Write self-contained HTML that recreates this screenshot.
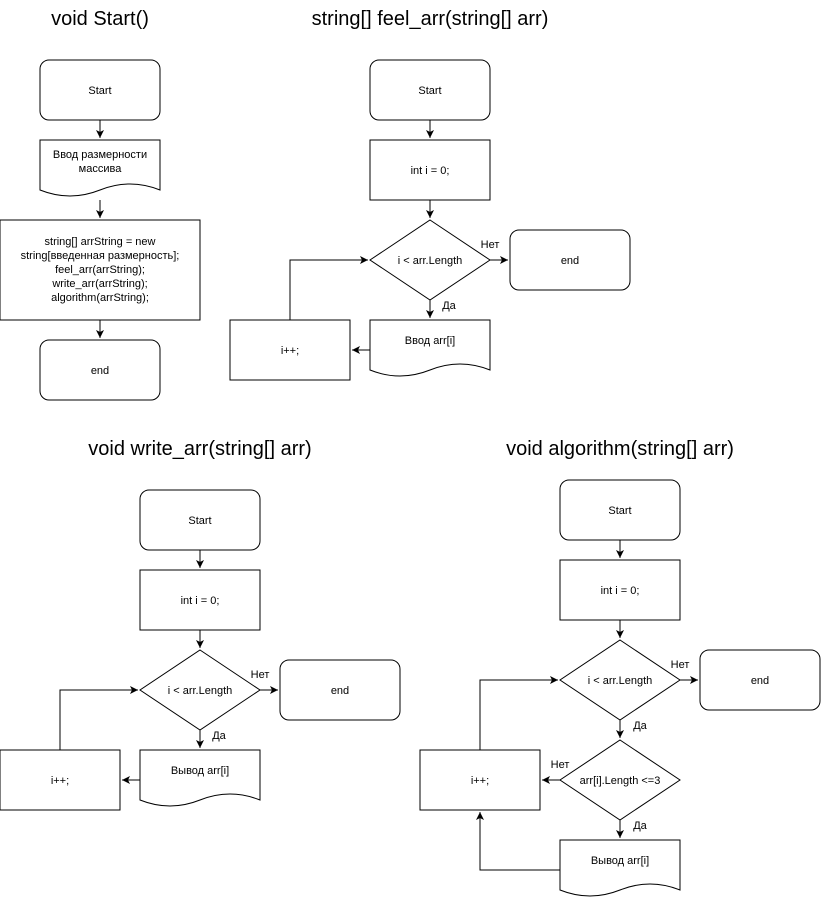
<!DOCTYPE html>
<html><head><meta charset="utf-8"><style>
html,body{margin:0;padding:0;background:#fff;}
svg{display:block;}
text{font-family:"Liberation Sans",Arial,sans-serif;fill:#000;}
.s{font-size:11px;}
.t{font-size:20px;}
.b{fill:#fff;stroke:#000;stroke-width:1;}
.l{fill:none;stroke:#000;stroke-width:1;}
</style></head><body>
<svg width="821" height="901" viewBox="0 0 821 901" xmlns="http://www.w3.org/2000/svg">
<defs><marker id="a" markerWidth="10" markerHeight="10" refX="8" refY="5" orient="auto" markerUnits="userSpaceOnUse"><path d="M0,1 L8,5 L0,9 L2,5 Z" fill="#000"/></marker></defs>

<!-- Diagram 1 -->
<text class="t" x="100" y="25" text-anchor="middle">void Start()</text>
<rect class="b" x="40" y="60" width="120" height="60" rx="9"/>
<text class="s" x="100" y="94" text-anchor="middle">Start</text>
<path class="b" d="M40,140 H160 V190 Q130,178 100,190 T40,190 Z"/>
<text class="s" x="100" y="158" text-anchor="middle">Ввод размерности</text>
<text class="s" x="100" y="172" text-anchor="middle">массива</text>
<rect class="b" x="0" y="220" width="200" height="100"/>
<text class="s" x="100" y="245" text-anchor="middle">string[] arrString = new</text>
<text class="s" x="100" y="259" text-anchor="middle">string[введенная размерность];</text>
<text class="s" x="100" y="273" text-anchor="middle">feel_arr(arrString);</text>
<text class="s" x="100" y="287" text-anchor="middle">write_arr(arrString);</text>
<text class="s" x="100" y="301" text-anchor="middle">algorithm(arrString);</text>
<rect class="b" x="40" y="340" width="120" height="60" rx="9"/>
<text class="s" x="100" y="374" text-anchor="middle">end</text>
<path class="l" d="M100,120 V138" marker-end="url(#a)"/>
<path class="l" d="M100,200 V218" marker-end="url(#a)"/>
<path class="l" d="M100,320 V338" marker-end="url(#a)"/>

<!-- Diagram 2 -->
<text class="t" x="430" y="25" text-anchor="middle">string[] feel_arr(string[] arr)</text>
<rect class="b" x="370" y="60" width="120" height="60" rx="9"/>
<text class="s" x="430" y="94" text-anchor="middle">Start</text>
<rect class="b" x="370" y="140" width="120" height="60"/>
<text class="s" x="430" y="174" text-anchor="middle">int i = 0;</text>
<path class="b" d="M430,220 L490,260 L430,300 L370,260 Z"/>
<text class="s" x="430" y="264" text-anchor="middle">i &lt; arr.Length</text>
<rect class="b" x="510" y="230" width="120" height="60" rx="9"/>
<text class="s" x="570" y="264" text-anchor="middle">end</text>
<path class="b" d="M370,320 H490 V370 Q460,358 430,370 T370,370 Z"/>
<text class="s" x="430" y="344" text-anchor="middle">Ввод arr[i]</text>
<rect class="b" x="230" y="320" width="120" height="60"/>
<text class="s" x="290" y="354" text-anchor="middle">i++;</text>
<path class="l" d="M430,120 V138" marker-end="url(#a)"/>
<path class="l" d="M430,200 V218" marker-end="url(#a)"/>
<path class="l" d="M490,260 H508" marker-end="url(#a)"/>
<text class="s" x="490" y="248" text-anchor="middle">Нет</text>
<path class="l" d="M430,300 V318" marker-end="url(#a)"/>
<text class="s" x="449" y="309" text-anchor="middle">Да</text>
<path class="l" d="M370,350 H352" marker-end="url(#a)"/>
<path class="l" d="M290,320 V260 H368" marker-end="url(#a)"/>

<!-- Diagram 3 -->
<text class="t" x="200" y="455" text-anchor="middle">void write_arr(string[] arr)</text>
<rect class="b" x="140" y="490" width="120" height="60" rx="9"/>
<text class="s" x="200" y="524" text-anchor="middle">Start</text>
<rect class="b" x="140" y="570" width="120" height="60"/>
<text class="s" x="200" y="604" text-anchor="middle">int i = 0;</text>
<path class="b" d="M200,650 L260,690 L200,730 L140,690 Z"/>
<text class="s" x="200" y="694" text-anchor="middle">i &lt; arr.Length</text>
<rect class="b" x="280" y="660" width="120" height="60" rx="9"/>
<text class="s" x="340" y="694" text-anchor="middle">end</text>
<path class="b" d="M140,750 H260 V800 Q230,788 200,800 T140,800 Z"/>
<text class="s" x="200" y="774" text-anchor="middle">Вывод arr[i]</text>
<rect class="b" x="0" y="750" width="120" height="60"/>
<text class="s" x="60" y="784" text-anchor="middle">i++;</text>
<path class="l" d="M200,550 V568" marker-end="url(#a)"/>
<path class="l" d="M200,630 V648" marker-end="url(#a)"/>
<path class="l" d="M260,690 H278" marker-end="url(#a)"/>
<text class="s" x="260" y="678" text-anchor="middle">Нет</text>
<path class="l" d="M200,730 V748" marker-end="url(#a)"/>
<text class="s" x="219" y="739" text-anchor="middle">Да</text>
<path class="l" d="M140,780 H122" marker-end="url(#a)"/>
<path class="l" d="M60,750 V690 H138" marker-end="url(#a)"/>

<!-- Diagram 4 -->
<text class="t" x="620" y="455" text-anchor="middle">void algorithm(string[] arr)</text>
<rect class="b" x="560" y="480" width="120" height="60" rx="9"/>
<text class="s" x="620" y="514" text-anchor="middle">Start</text>
<rect class="b" x="560" y="560" width="120" height="60"/>
<text class="s" x="620" y="594" text-anchor="middle">int i = 0;</text>
<path class="b" d="M620,640 L680,680 L620,720 L560,680 Z"/>
<text class="s" x="620" y="684" text-anchor="middle">i &lt; arr.Length</text>
<rect class="b" x="700" y="650" width="120" height="60" rx="9"/>
<text class="s" x="760" y="684" text-anchor="middle">end</text>
<path class="b" d="M620,740 L680,780 L620,820 L560,780 Z"/>
<text class="s" x="620" y="784" text-anchor="middle">arr[i].Length &lt;=3</text>
<rect class="b" x="420" y="750" width="120" height="60"/>
<text class="s" x="480" y="784" text-anchor="middle">i++;</text>
<path class="b" d="M560,840 H680 V890 Q650,878 620,890 T560,890 Z"/>
<text class="s" x="620" y="864" text-anchor="middle">Вывод arr[i]</text>
<path class="l" d="M620,540 V558" marker-end="url(#a)"/>
<path class="l" d="M620,620 V638" marker-end="url(#a)"/>
<path class="l" d="M680,680 H698" marker-end="url(#a)"/>
<text class="s" x="680" y="668" text-anchor="middle">Нет</text>
<path class="l" d="M620,720 V738" marker-end="url(#a)"/>
<text class="s" x="640" y="729" text-anchor="middle">Да</text>
<path class="l" d="M560,780 H542" marker-end="url(#a)"/>
<text class="s" x="560" y="768" text-anchor="middle">Нет</text>
<path class="l" d="M620,820 V838" marker-end="url(#a)"/>
<text class="s" x="640" y="829" text-anchor="middle">Да</text>
<path class="l" d="M560,870 H480 V812" marker-end="url(#a)"/>
<path class="l" d="M480,750 V680 H558" marker-end="url(#a)"/>
</svg>
</body></html>
